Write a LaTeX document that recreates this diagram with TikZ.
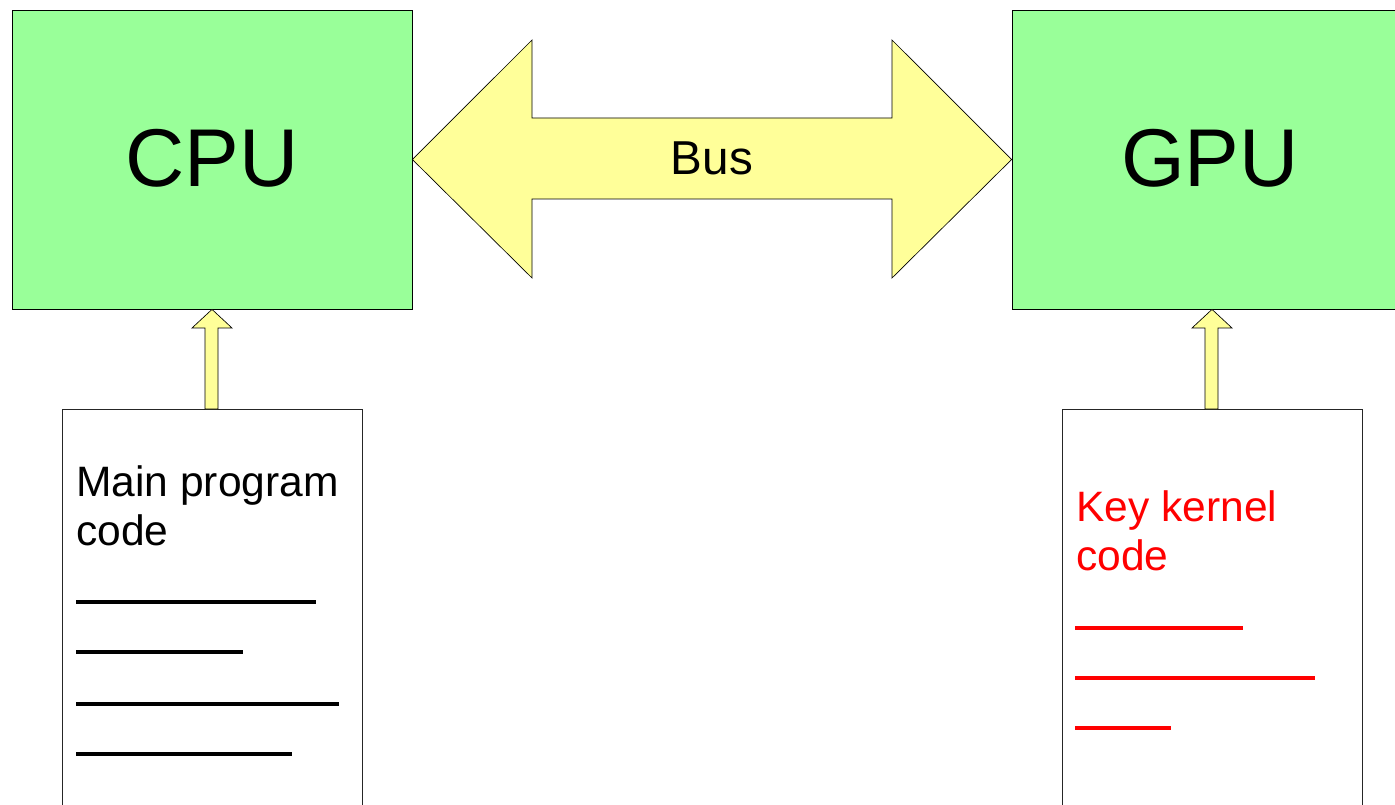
\documentclass[tikz,border=0pt]{standalone}
\usepackage{fontspec}
\setmainfont{Liberation Sans}
\definecolor{procgreen}{HTML}{99FF99}
\definecolor{busyellow}{HTML}{FFFF99}
\definecolor{kred}{HTML}{FF0000}
\begin{document}
\begin{tikzpicture}[x=0.75pt,y=-0.75pt,
  proc/.style={draw=black, line width=0.6pt, fill=procgreen, minimum width=300pt, minimum height=224.25pt, inner sep=0pt},
  codebox/.style={draw=black!85, line width=0.6pt, fill=white, minimum width=225pt, minimum height=368.25pt, inner sep=0pt},
  arrowshape/.style={draw=black, line width=0.5pt, fill=busyellow, line join=miter},
  bigtxt/.style={anchor=base, inner sep=0pt, font=\fontsize{61.5}{70}\selectfont},
  bustxt/.style={anchor=base, inner sep=0pt, font=\fontsize{35.7}{42}\selectfont},
  codetxt/.style={anchor=base west, align=left, inner sep=0pt, font=\fontsize{31.9}{36.75}\selectfont},
  codeline/.style={line width=2.6pt}
]
\useasboundingbox (0,0) rectangle (1395,805);
\clip (0,0) rectangle (1395,805);
\fill[white] (0,0) rectangle (1395,805);

% processors
\node[proc] (cpu) at (212,159.5) {};
\node[proc] (gpu) at (1212,159.5) {};
\node[bigtxt] (cputxt) at (212,187) {CPU};
\node[bigtxt] (gputxt) at (1210,187) {GPU};

% bus double arrow
\draw[arrowshape] (cpu.east) -- (532,40) -- (532,118) -- (892,118) -- (892,40)
  -- (gpu.west) -- (892,278) -- (892,199) -- (532,199) -- (532,278) -- cycle;
\node[bustxt] (bus) at (712,175) {Bus};

% code boxes
\node[codebox] (main) at (212,654.5) {};
\node[codebox] (kern) at (1212,654.5) {};

% small up arrows
\draw[arrowshape] (205,409) -- (205,328) -- (192,328) -- (cpu.south) -- (232,328)
  -- (218,328) -- (218,409) -- cycle;
\draw[arrowshape] (1205,409) -- (1205,328) -- (1192,328) -- (gpu.south) -- (1232,328)
  -- (1218,328) -- (1218,409) -- cycle;

% main program code (base anchor = last line baseline)
\node[codetxt] (maintxt) at (76,545) {Main program\\code};
\draw[codeline] (76,602) -- (316,602);
\draw[codeline] (76,652) -- (243,652);
\draw[codeline] (76,704) -- (339,704);
\draw[codeline] (76,754) -- (292,754);

% key kernel code
\node[codetxt, text=kred] (kerntxt) at (1076,570) {Key kernel\\code};
\draw[codeline, kred] (1075,628) -- (1243,628);
\draw[codeline, kred] (1075,678) -- (1315,678);
\draw[codeline, kred] (1075,728) -- (1171,728);
\end{tikzpicture}
\end{document}
